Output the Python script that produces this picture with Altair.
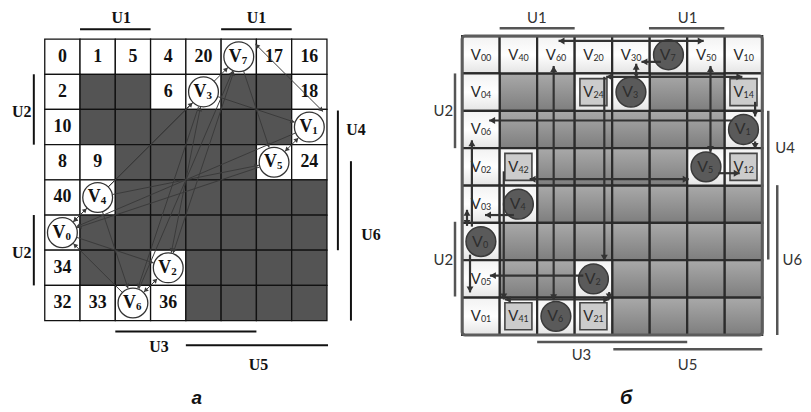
import math
import altair as alt
import pandas as pd

# ---------------- data ----------------
LEFT_GRID = [
    ["0", "1", "5", "4", "20", "V7", "17", "16"],
    ["2", "#", "#", "6", "V3", "#", "#", "18"],
    ["10", "#", "#", "#", "#", "#", "#", "V1"],
    ["8", "9", "#", "#", "#", "#", "V5", "24"],
    ["40", "V4", "#", "#", "#", "#", "#", "#"],
    ["V0", "#", "#", "#", "#", "#", "#", "#"],
    ["34", "#", "#", "V2", "#", "#", "#", "#"],
    ["32", "33", "V6", "36", "#", "#", "#", "#"],
]
RIGHT_GRID = [
    ["V00", "V40", "V60", "V20", "V30", "o7", "V50", "V10"],
    ["V04", "#", "#", "b24", "o3", "#", "#", "b14"],
    ["V06", "#", "#", "#", "#", "#", "#", "o1"],
    ["V02", "b42", "#", "#", "#", "#", "o5", "b12"],
    ["V03", "o4", "#", "#", "#", "#", "#", "#"],
    ["o0", "#", "#", "#", "#", "#", "#", "#"],
    ["V05", "#", "#", "o2", "#", "#", "#", "#"],
    ["V01", "b41", "o6", "b21", "#", "#", "#", "#"],
]

# left panel: edges between vertices (from, to, heads)
LEFT_EDGES = [
    ("V4", "V7", "end"), ("V4", "V3", "end"), ("V3", "V1", "end"),
    ("V7", "V5", "end"), ("V5", "V1", "both"), ("V0", "V4", "both"),
    ("V0", "V2", "end"), ("V4", "V6", "end"), ("V6", "V0", "end"),
    ("V6", "V2", "both"), ("V2", "V7", "both"), ("V6", "V7", "end"),
    ("V2", "V3", "both"), ("V3", "V6", "end"), ("V1", "V0", "end"),
    ("V5", "V0", "end"), ("V4", "V5", "end"), ("V3", "V0", "end"),
]
# extra left segment (x1, y1, x2, y2, heads) in cell units
LEFT_EXTRA = [(5.97, 0.14, 7.89, 2.06, "both")]

# right panel orthogonal arrows (x1, y1, x2, y2, heads) in cell units
RIGHT_ARROWS = [
    (2.57, 0.13, 6.44, 0.13, "both"),
    (2.44, 0.80, 2.44, 7.07, "both"),
    (6.62, 0.80, 6.62, 3.10, "both"),
    (5.30, 0.69, 4.78, 0.69, "end"),
    (4.64, 0.74, 4.64, 1.12, "both"),
    (3.84, 1.09, 7.47, 1.09, "both"),
    (3.79, 1.09, 3.79, 6.01, "end"),
    (7.81, 1.76, 7.81, 2.15, "end"),
    (7.81, 2.82, 7.81, 3.02, "end"),
    (7.20, 2.26, 0.72, 2.26, "end"),
    (6.83, 3.67, 7.40, 3.67, "end"),
    (1.80, 3.83, 6.04, 3.83, "both"),
    (0.26, 5.10, 0.26, 2.79, "end"),
    (0.13, 4.65, 0.13, 5.08, "both"),
    (0.21, 5.85, 0.21, 6.86, "end"),
    (1.38, 4.79, 0.61, 4.79, "end"),
    (1.11, 3.62, 1.11, 7.05, "end"),
    (3.23, 6.41, 0.74, 6.41, "end"),
    (3.92, 6.85, 3.92, 7.05, "end"),
    (1.14, 7.05, 3.92, 7.05, "both"),
]

LEFT_U_TEXT = ["U1", "U1", "U2", "U2", "U4", "U6", "U3", "U5"]
LEFT_U_TX = [2.17, 6.0, -0.65, -0.65, 8.82, 9.25, 3.24, 6.06]
LEFT_U_TY = [-0.60, -0.60, 2.06, 6.07, 2.58, 5.56, 8.76, 9.27]
LEFT_U_LINES = [
    (1.0, -0.28, 3.0, -0.28), (5.0, -0.28, 7.0, -0.28),
    (-0.31, 1.0, -0.31, 3.0), (-0.31, 5.0, -0.31, 7.0),
    (8.31, 2.03, 8.31, 6.0), (8.68, 3.47, 8.68, 8.0),
    (2.0, 8.31, 6.0, 8.31), (4.0, 8.70, 8.03, 8.70),
]
RIGHT_U_TEXT = ["U1", "U1", "U2", "U2", "U4", "U6", "U3", "U5"]
RIGHT_U_TX = [1.99, 6.01, -0.5, -0.5, 8.61, 8.8, 3.18, 6.01]
RIGHT_U_TY = [-0.34, -0.34, 2.15, 6.12, 3.14, 6.12, 8.67, 8.94]
RIGHT_U_LINES = [
    (1.0, -0.21, 3.0, -0.21), (4.98, -0.21, 6.99, -0.21),
    (-0.19, 1.0, -0.19, 3.0), (-0.19, 4.97, -0.19, 6.97),
    (8.16, 2.0, 8.16, 5.98), (8.40, 3.99, 8.40, 8.0),
    (2.0, 8.19, 6.0, 8.19), (4.03, 8.38, 8.0, 8.38),
]
PANEL_TAGS = ["а", "б"]
TAG_POS = [(4.31, 10.38), (4.37, 9.86)]

# ---------------- layout ----------------
LX, LY = [-1.042, 10.79], [-0.763, 10.42]
RX, RY = [-0.980, 8.954], [-0.638, 9.894]
LW, RW, H = 420, 375, 396
LCW, LCH = LW / (LX[1] - LX[0]), H / (LY[1] - LY[0])
RCW, RCH = RW / (RX[1] - RX[0]), H / (RY[1] - RY[0])


def scales(xd, yd):
    return (alt.Scale(domain=xd, nice=False, zero=False),
            alt.Scale(domain=yd, nice=False, zero=False, reverse=True))


def cell_df(grid):
    rows = []
    for r, row in enumerate(grid):
        for c, v in enumerate(row):
            rows.append(dict(c=c, c2=c + 1, r=r, r2=r + 1, v=v,
                             x=c + 0.5, y=r + 0.5))
    return pd.DataFrame(rows)


def arrows(segs, cw, ch, back):
    lines, heads = [], []
    for x1, y1, x2, y2, hd in segs:
        lines.append(dict(x=x1, y=y1, x2=x2, y2=y2))
        dxp, dyp = (x2 - x1) * cw, (y2 - y1) * ch
        L = math.hypot(dxp, dyp)
        ux, uy = dxp / L, dyp / L
        if hd in ("end", "both"):
            heads.append(dict(x=x2 - ux * back / cw, y=y2 - uy * back / ch,
                              a=math.degrees(math.atan2(ux, -uy)) % 360))
        if hd in ("start", "both"):
            heads.append(dict(x=x1 + ux * back / cw, y=y1 + uy * back / ch,
                              a=math.degrees(math.atan2(-ux, uy)) % 360))
    return pd.DataFrame(lines), pd.DataFrame(heads)


def XY(xs, ys):
    return dict(x=alt.X("x:Q", scale=xs, axis=None), y=alt.Y("y:Q", scale=ys, axis=None))


# ---------------- left panel ----------------
lxs, lys = scales(LX, LY)
L = cell_df(LEFT_GRID)
L["kind"] = ["dark" if v == "#" else ("vert" if v.startswith("V") else "num")
             for v in L["v"]]
verts = L[L.kind == "vert"].copy()
verts["main"] = "V"
verts["sub"] = verts["v"].str[1:]
vpos = {r.v: (r.x, r.y) for r in verts.itertuples()}

R_PX = 15.5
segs = []
for a, b, hd in LEFT_EDGES:
    (xa, ya), (xb, yb) = vpos[a], vpos[b]
    dxp, dyp = (xb - xa) * LCW, (yb - ya) * LCH
    d = math.hypot(dxp, dyp)
    ux, uy = dxp / d, dyp / d
    segs.append((xa + ux * R_PX / LCW, ya + uy * R_PX / LCH,
                 xb - ux * R_PX / LCW, yb - uy * R_PX / LCH, hd))
segs += LEFT_EXTRA
l_lines, l_heads = arrows(segs, LCW, LCH, 2.3)

lu_text = pd.DataFrame(dict(t=LEFT_U_TEXT, x=LEFT_U_TX, y=LEFT_U_TY))
lu_lines = pd.DataFrame(LEFT_U_LINES, columns=["x", "y", "x2", "y2"])
ltag = pd.DataFrame(dict(t=[PANEL_TAGS[0]], x=[TAG_POS[0][0]], y=[TAG_POS[0][1]]))

left_layers = [
    alt.Chart(L).mark_rect(stroke="#111111", strokeWidth=1.3).encode(
        x=alt.X("c:Q", scale=lxs, axis=None), x2="c2:Q",
        y=alt.Y("r:Q", scale=lys, axis=None), y2="r2:Q",
        fill=alt.Fill("kind:N", scale=alt.Scale(domain=["dark", "num", "vert"],
                      range=["#545454", "#ffffff", "#ffffff"]), legend=None)),
    alt.Chart(L[L.kind == "num"]).mark_text(
        font="Liberation Serif", fontWeight="bold", fontSize=18, color="#111111",
        baseline="middle").encode(**XY(lxs, lys), text="v:N"),
    alt.Chart(l_lines).mark_rule(color="#3a3a3a", strokeWidth=1.0).encode(
        **XY(lxs, lys), x2="x2:Q", y2="y2:Q"),
    alt.Chart(l_heads).mark_point(shape="triangle-up", filled=True, size=26,
                                  color="#3a3a3a", opacity=1).encode(
        **XY(lxs, lys), angle=alt.Angle("a:Q", scale=None)),
    alt.Chart(verts).mark_point(shape="circle", size=900, filled=True, fill="#ffffff",
                                stroke="#333333", strokeWidth=1.3, opacity=1).encode(**XY(lxs, lys)),
    alt.Chart(verts).mark_text(font="Liberation Serif", fontWeight="bold", fontSize=18,
                               color="#111111", align="right", baseline="middle", dx=3).encode(
        **XY(lxs, lys), text="main:N"),
    alt.Chart(verts).mark_text(font="Liberation Serif", fontWeight="bold", fontSize=11,
                               color="#111111", align="left", baseline="middle", dx=3, dy=4).encode(
        **XY(lxs, lys), text="sub:N"),
    alt.Chart(lu_lines).mark_rule(color="#111111", strokeWidth=2).encode(
        **XY(lxs, lys), x2="x2:Q", y2="y2:Q"),
    alt.Chart(lu_text).mark_text(font="Liberation Serif", fontWeight="bold", fontSize=16,
                                 color="#111111", baseline="middle").encode(**XY(lxs, lys), text="t:N"),
    alt.Chart(ltag).mark_text(font="Liberation Sans", fontWeight="bold", fontStyle="italic",
                              fontSize=19, color="#111111", baseline="alphabetic").encode(
        **XY(lxs, lys), text="t:N"),
]
left = alt.layer(*left_layers).properties(width=LW, height=H)

# ---------------- right panel ----------------
rxs, rys = scales(RX, RY)
R = cell_df(RIGHT_GRID)
R["kind"] = ["dark" if v == "#" else "light" for v in R["v"]]
labels = R[R["v"].str.startswith("V")].copy()
labels["main"] = "V"
labels["sub"] = labels["v"].str[1:]
circ = R[R["v"].str.startswith("o")].copy()
circ["main"] = "V"
circ["sub"] = circ["v"].str[1:]
box = R[R["v"].str.startswith("b")].copy()
box["main"] = "V"
box["sub"] = box["v"].str[1:]
r_lines, r_heads = arrows(RIGHT_ARROWS, RCW, RCH, 3.0)
ru_text = pd.DataFrame(dict(t=RIGHT_U_TEXT, x=RIGHT_U_TX, y=RIGHT_U_TY))
ru_lines = pd.DataFrame(RIGHT_U_LINES, columns=["x", "y", "x2", "y2"])
rtag = pd.DataFrame(dict(t=[PANEL_TAGS[1]], x=[TAG_POS[1][0]], y=[TAG_POS[1][1]]))
frame = pd.DataFrame(dict(c=[0], c2=[len(RIGHT_GRID[0])], r=[0], r2=[len(RIGHT_GRID)]))

dark_grad = {"gradient": "linear", "x1": 0, "y1": 0, "x2": 0, "y2": 1,
             "stops": [{"offset": 0, "color": "#a9a9a9"}, {"offset": 1, "color": "#7e7e7e"}]}
light_grad = {"gradient": "linear", "x1": 0, "y1": 0, "x2": 0, "y2": 1,
              "stops": [{"offset": 0, "color": "#f2f2f2"}, {"offset": 0.5, "color": "#ffffff"},
                        {"offset": 1, "color": "#e4e4e4"}]}


def RECT(df, **mk):
    return alt.Chart(df).mark_rect(**mk).encode(
        x=alt.X("c:Q", scale=rxs, axis=None), x2="c2:Q",
        y=alt.Y("r:Q", scale=rys, axis=None), y2="r2:Q")


right_layers = [
    RECT(R[R.kind == "dark"], fill=dark_grad, stroke="#2b2b2b", strokeWidth=2.2),
    RECT(R[R.kind == "light"], fill=light_grad, stroke="#2b2b2b", strokeWidth=2.2),
    RECT(frame, filled=False, stroke="#5c5c5c", strokeWidth=3, cornerRadius=3),
    alt.Chart(labels).mark_text(font="Lato", fontSize=15, color="#2a2a2a", align="right",
                                baseline="middle", dx=0).encode(**XY(rxs, rys), text="main:N"),
    alt.Chart(labels).mark_text(font="Lato", fontSize=9, color="#2a2a2a", align="left",
                                baseline="middle", dx=0, dy=3).encode(**XY(rxs, rys), text="sub:N"),
    alt.Chart(box).mark_point(shape="square", size=740, filled=True, fill="#cccccc",
                              stroke="#444444", strokeWidth=1.6, opacity=1).encode(**XY(rxs, rys)),
    alt.Chart(circ).mark_point(shape="circle", size=900, filled=True, fill="#5a5a5a",
                               stroke="#3a3a3a", strokeWidth=1.5, opacity=1).encode(**XY(rxs, rys)),
    alt.Chart(r_lines).mark_rule(color="#333333", strokeWidth=2.2).encode(
        **XY(rxs, rys), x2="x2:Q", y2="y2:Q"),
    alt.Chart(r_heads).mark_point(shape="triangle-up", filled=True, size=48,
                                  color="#333333", opacity=1).encode(
        **XY(rxs, rys), angle=alt.Angle("a:Q", scale=None)),
    alt.Chart(box).mark_text(font="Lato", fontSize=15, color="#2a2a2a", align="right",
                             baseline="middle", dx=0).encode(**XY(rxs, rys), text="main:N"),
    alt.Chart(box).mark_text(font="Lato", fontSize=9, color="#2a2a2a", align="left",
                             baseline="middle", dx=0, dy=3).encode(**XY(rxs, rys), text="sub:N"),
    alt.Chart(circ).mark_text(font="Lato", fontSize=16, color="#2e2e2e", align="right",
                              baseline="middle", dx=2).encode(**XY(rxs, rys), text="main:N"),
    alt.Chart(circ).mark_text(font="Lato", fontSize=9, color="#2e2e2e", align="left",
                              baseline="middle", dx=2, dy=3).encode(**XY(rxs, rys), text="sub:N"),
    alt.Chart(ru_lines).mark_rule(color="#555555", strokeWidth=2.5).encode(
        **XY(rxs, rys), x2="x2:Q", y2="y2:Q"),
    alt.Chart(ru_text).mark_text(font="Lato", fontSize=15, color="#333333",
                                 baseline="alphabetic").encode(**XY(rxs, rys), text="t:N"),
    alt.Chart(rtag).mark_text(font="Liberation Sans", fontWeight="bold", fontStyle="italic",
                              fontSize=20, color="#111111", baseline="alphabetic").encode(
        **XY(rxs, rys), text="t:N"),
]
right = alt.layer(*right_layers).properties(width=RW, height=H)

chart = alt.hconcat(left, right, spacing=0, padding=0, bounds="flush").configure_view(stroke=None)
chart.save("out.html", embed_options={"renderer": "svg", "actions": False})
